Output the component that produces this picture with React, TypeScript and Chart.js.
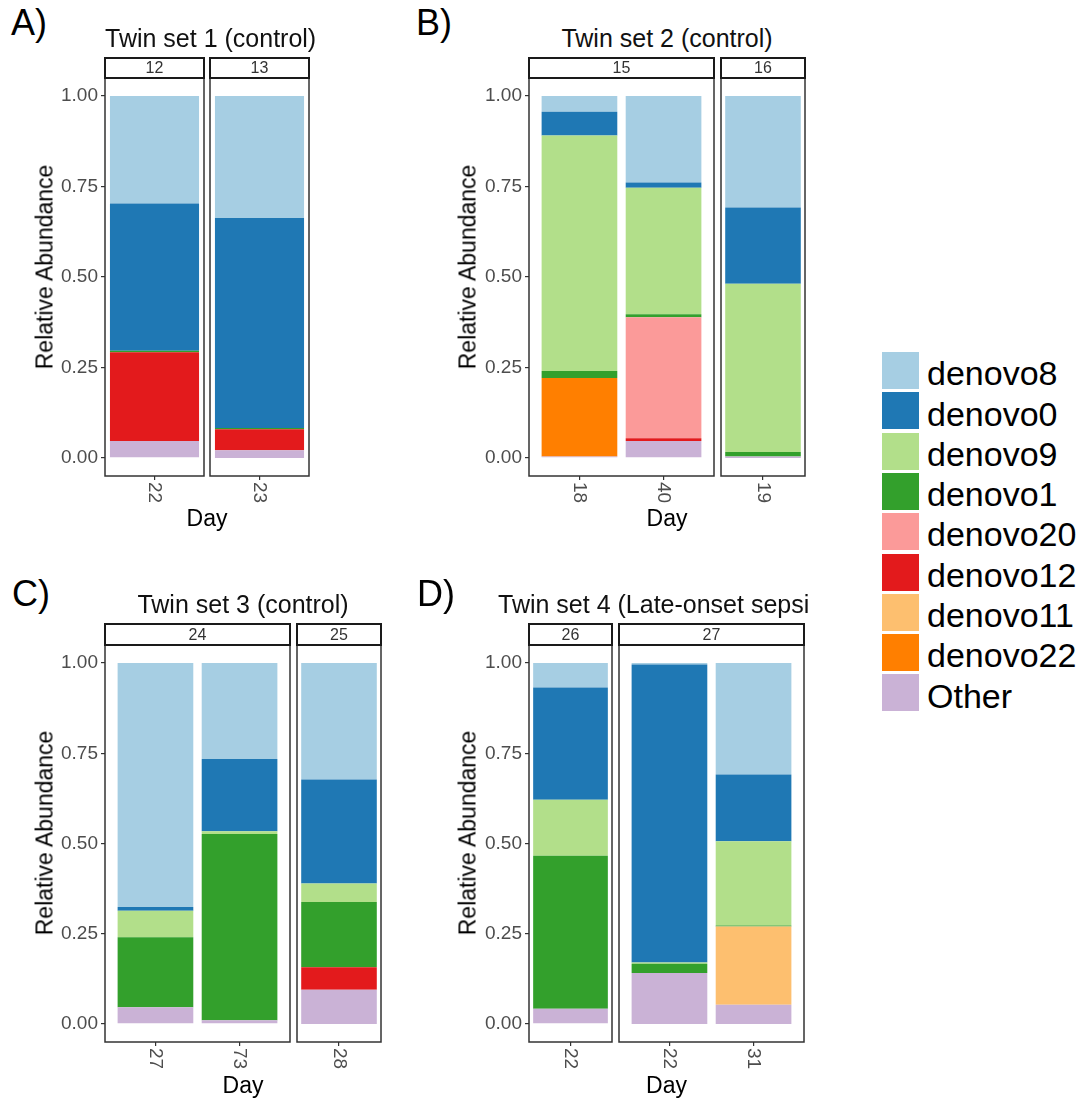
import React, { useEffect, useRef } from 'react';
import { Chart, registerables } from 'chart.js';

Chart.register(...registerables);

const FONT = '"Liberation Sans", Arial, Helvetica, sans-serif';

// Taxa in legend order (the first one sits on top of each stack)
const taxa = ['denovo8', 'denovo0', 'denovo9', 'denovo1', 'denovo20', 'denovo12', 'denovo11', 'denovo22', 'Other'];
const taxaColors = ['#a6cee3', '#1f78b4', '#b2df8a', '#33a02c', '#fb9a99', '#e31a1c', '#fdbf6f', '#ff7f00', '#cab2d6'];

// Samples: A/12, A/13, B/15, B/15, B/16, C/24, C/24, C/25, D/26, D/27, D/27
const sampleDays = ['22', '23', '18', '40', '19', '27', '73', '28', '22', '22', '31'];

// Relative abundance of each taxon per sample
const denovo8 = [0.297, 0.337, 0.043, 0.239, 0.308, 0.676, 0.266, 0.323, 0.068, 0.004, 0.309];
const denovo0 = [0.407, 0.58, 0.066, 0.014, 0.211, 0.01, 0.2, 0.288, 0.311, 0.826, 0.185];
const denovo9 = [0, 0, 0.651, 0.35, 0.465, 0.074, 0.008, 0.051, 0.155, 0.003, 0.233];
const denovo1 = [0.004, 0.004, 0.019, 0.008, 0.012, 0.194, 0.516, 0.181, 0.424, 0.026, 0.003];
const denovo20 = [0, 0, 0, 0.335, 0, 0, 0, 0, 0, 0, 0];
const denovo12 = [0.245, 0.058, 0, 0.007, 0, 0, 0, 0.062, 0, 0, 0];
const denovo11 = [0, 0, 0, 0, 0, 0, 0, 0, 0, 0, 0.217];
const denovo22 = [0, 0, 0.217, 0, 0, 0, 0, 0, 0, 0, 0];
const other = [0.047, 0.021, 0.004, 0.047, 0.004, 0.046, 0.01, 0.095, 0.042, 0.141, 0.053];

const abundance = [denovo8, denovo0, denovo9, denovo1, denovo20, denovo12, denovo11, denovo22, other];

const yTicks = [0, 0.25, 0.5, 0.75, 1];

const panelLetters = ['A)', 'B)', 'C)', 'D)'];
const panelTitles = ['Twin set 1 (control)', 'Twin set 2 (control)', 'Twin set 3 (control)', 'Twin set 4 (Late-onset sepsi'];
const facetStrips = [['12', '13'], ['15', '16'], ['24', '25'], ['26', '27']];
const facetSamples = [[[0], [1]], [[2, 3], [4]], [[5, 6], [7]], [[8], [9, 10]]];

// Page geometry of each panel
const frames = [
  { letterX: 11, letterY: 5, titleY: 26, titleLeft: 0, stripTop: 57, top: 78, bottom: 476, dayY: 507, axisTitleX: 45, facetX: [[105, 204], [210, 309]] },
  { letterX: 416, letterY: 5, titleY: 26, titleLeft: 0, stripTop: 57, top: 78, bottom: 476, dayY: 507, axisTitleX: 468, facetX: [[529, 714], [721, 805]] },
  { letterX: 12, letterY: 576, titleY: 592, titleLeft: 0, stripTop: 623, top: 645, bottom: 1042, dayY: 1074, axisTitleX: 45, facetX: [[105, 290], [297, 381]] },
  { letterX: 417, letterY: 576, titleY: 592, titleLeft: 498, stripTop: 623, top: 645, bottom: 1042, dayY: 1074, axisTitleX: 468, facetX: [[529, 612], [619, 804]] },
];

const X_AXIS_H = 32;
const PAD_T = 16;
const PAD_S = 2;
const PAD_B = 2;
const Y_AXIS_W = 73;

// Panel border and clockwise-rotated day labels
const facetFrame = {
  id: 'facetFrame',
  afterDraw(chart: any) {
    const { ctx, chartArea: a } = chart;
    ctx.save();
    ctx.strokeStyle = '#333';
    ctx.lineWidth = 1.5;
    ctx.strokeRect(a.left, a.top, a.right - a.left, a.bottom - a.top);
    const xs = chart.scales.x;
    ctx.fillStyle = '#4d4d4d';
    ctx.font = `19px ${FONT}`;
    ctx.textAlign = 'left';
    ctx.textBaseline = 'middle';
    xs.ticks.forEach((t: any) => {
      const px = xs.getPixelForValue(t.value);
      ctx.save();
      ctx.translate(px, a.bottom + 6);
      ctx.rotate(Math.PI / 2);
      ctx.fillText(String(t.label), 0, 0);
      ctx.restore();
    });
    ctx.restore();
  },
};

type FacetProps = { samples: number[]; x0: number; x1: number; top: number; bottom: number; withAxis: boolean };

function FacetChart({ samples, x0, x1, top, bottom, withAxis }: FacetProps) {
  const ref = useRef<HTMLCanvasElement>(null);
  const axisW = withAxis ? Y_AXIS_W : 0;
  const width = PAD_S + axisW + (x1 - x0) + PAD_S;
  const height = PAD_T + (bottom - top) + X_AXIS_H + PAD_B;

  useEffect(() => {
    const canvas = ref.current;
    if (!canvas) return;
    const n = samples.length;
    const pad = n === 1 ? 0.5 : 0.6;
    const xMin = 1 - pad;
    const xMax = n + pad;
    const barPx = (0.9 * (x1 - x0)) / (xMax - xMin);
    // Other at the base, denovo8 on top
    const stackOrder = [8, 7, 6, 5, 4, 3, 2, 1, 0];
    const chart = new Chart(canvas, {
      type: 'bar',
      data: {
        datasets: stackOrder.map((ti) => ({
          label: taxa[ti],
          data: samples.map((s, i) => ({ x: i + 1, y: abundance[ti][s] })),
          backgroundColor: taxaColors[ti],
          borderWidth: 0,
          inflateAmount: 0,
          barThickness: barPx,
        })),
      },
      options: {
        animation: false,
        responsive: false,
        devicePixelRatio: 1,
        events: [],
        layout: { padding: { top: PAD_T, left: PAD_S, right: PAD_S, bottom: PAD_B } },
        plugins: { legend: { display: false }, tooltip: { enabled: false } },
        scales: {
          x: {
            type: 'linear',
            stacked: true,
            min: xMin,
            max: xMax,
            offset: false,
            afterBuildTicks: (s: any) => {
              s.ticks = samples.map((_, i) => ({ value: i + 1 }));
            },
            afterFit: (s: any) => {
              s.height = X_AXIS_H;
            },
            ticks: { display: false, callback: (v: any) => sampleDays[samples[Number(v) - 1]] },
            grid: { offset: false, drawOnChartArea: false, drawTicks: true, tickLength: 4, color: '#333', lineWidth: 1.2 },
            border: { display: false },
          },
          y: {
            type: 'linear',
            stacked: true,
            min: -0.05,
            max: 1.05,
            display: withAxis,
            afterBuildTicks: (s: any) => {
              s.ticks = yTicks.map((v) => ({ value: v }));
            },
            afterFit: withAxis
              ? (s: any) => {
                  s.width = Y_AXIS_W;
                }
              : undefined,
            ticks: {
              callback: (v: any) => Number(v).toFixed(2),
              color: '#4d4d4d',
              font: { size: 19, family: FONT },
              padding: 3,
            },
            grid: { drawOnChartArea: false, drawTicks: true, tickLength: 4, color: '#333', lineWidth: 1.2 },
            border: { display: false },
          },
        },
      } as any,
      plugins: [facetFrame],
    });
    return () => chart.destroy();
  }, []);

  return (
    <canvas
      ref={ref}
      width={width}
      height={height}
      style={{ position: 'absolute', left: x0 - axisW - PAD_S, top: top - PAD_T, width, height }}
    />
  );
}

function Panel({ index }: { index: number }) {
  const f = frames[index];
  const left = f.facetX[0][0];
  const right = f.facetX[f.facetX.length - 1][1];
  const textBase: React.CSSProperties = { position: 'absolute', lineHeight: 1, whiteSpace: 'nowrap', fontFamily: FONT };
  return (
    <>
      {facetSamples[index].map((samples, k) => (
        <FacetChart
          key={k}
          samples={samples}
          x0={f.facetX[k][0]}
          x1={f.facetX[k][1]}
          top={f.top}
          bottom={f.bottom}
          withAxis={k === 0}
        />
      ))}
      <div style={{ ...textBase, left: f.letterX, top: f.letterY, fontSize: 36, color: '#000' }}>{panelLetters[index]}</div>
      {f.titleLeft ? (
        <div style={{ ...textBase, left: f.titleLeft, top: f.titleY, fontSize: 25, color: '#111' }}>{panelTitles[index]}</div>
      ) : (
        <div style={{ ...textBase, left, width: right - left, textAlign: 'center', top: f.titleY, fontSize: 25, color: '#111' }}>
          {panelTitles[index]}
        </div>
      )}
      {facetStrips[index].map((label, k) => (
        <div
          key={k}
          style={{
            position: 'absolute',
            left: f.facetX[k][0] - 1,
            top: f.stripTop,
            width: f.facetX[k][1] - f.facetX[k][0] + 2,
            height: f.top - f.stripTop + 1,
            boxSizing: 'border-box',
            border: '2px solid #1a1a1a',
            background: '#fff',
            fontFamily: FONT,
            fontSize: 16,
            color: '#333',
            display: 'flex',
            alignItems: 'center',
            justifyContent: 'center',
            lineHeight: 1,
          }}
        >
          {label}
        </div>
      ))}
      <div style={{ position: 'absolute', left: f.axisTitleX, top: (f.stripTop + f.bottom) / 2, width: 0, height: 0 }}>
        <div
          style={{
            ...textBase,
            left: 0,
            top: 0,
            fontSize: 23,
            color: '#000',
            transform: 'translate(-50%, -50%) rotate(-90deg)',
          }}
        >
          Relative Abundance
        </div>
      </div>
      <div style={{ ...textBase, left, width: right - left, textAlign: 'center', top: f.dayY, fontSize: 23, color: '#000' }}>Day</div>
    </>
  );
}

function Legend() {
  return (
    <>
      {taxa.map((name, i) => {
        const top = 352 + i * 40.3;
        return (
          <React.Fragment key={name}>
            <div style={{ position: 'absolute', left: 882, top, width: 37, height: 37, background: taxaColors[i] }} />
            <div
              style={{
                position: 'absolute',
                left: 927,
                top: top + 4.2,
                fontFamily: FONT,
                fontSize: 34,
                lineHeight: 1,
                whiteSpace: 'nowrap',
                color: '#000',
              }}
            >
              {name}
            </div>
          </React.Fragment>
        );
      })}
    </>
  );
}

export default function App() {
  return (
    <div
      style={{
        position: 'absolute',
        left: 0,
        top: 0,
        width: 1086,
        height: 1104,
        background: '#fff',
        overflow: 'hidden',
      }}
    >
      {[0, 1, 2, 3].map((i) => (
        <Panel key={i} index={i} />
      ))}
      <Legend />
    </div>
  );
}
